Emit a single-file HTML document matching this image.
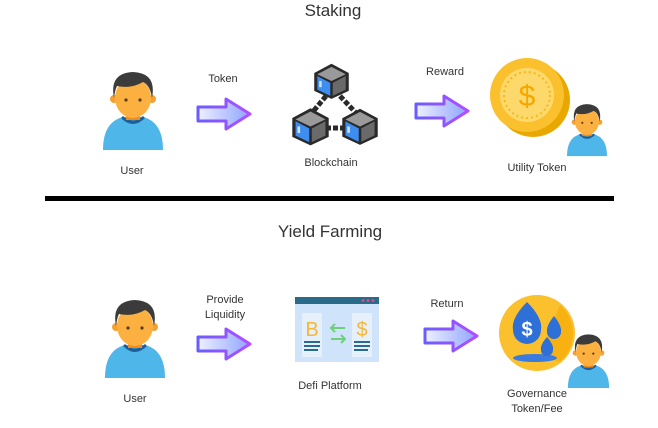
<!DOCTYPE html>
<html><head><meta charset="utf-8"><style>
html,body{margin:0;padding:0;background:#fff}
svg{display:block}
text{font-family:"Liberation Sans",sans-serif;fill:#333}
</style></head><body>
<svg width="658" height="428" viewBox="0 0 658 428" xmlns="http://www.w3.org/2000/svg">
<defs>
<linearGradient id="ag" x1="0" x2="1" y1="0" y2="0"><stop offset="0" stop-color="#eef0ff"/><stop offset="1" stop-color="#8fa4ff"/></linearGradient>
<linearGradient id="as" x1="0" x2="1" y1="0" y2="0"><stop offset="0" stop-color="#6b5cff"/><stop offset="1" stop-color="#b44dff"/></linearGradient>
<symbol id="person" viewBox="0 0 60 80">
<path d="M0 80 Q0 52 20 47 L40 47 Q60 52 60 80 Z" fill="#4fb6ea"/>
<path d="M18 48 Q30 60 42 48 L40 46 Q30 55 20 46 Z" fill="#1e5f9a"/>
<rect x="23" y="36" width="14" height="14" fill="#f08c1e"/>
<circle cx="11" cy="29" r="4" fill="#f5a030"/><circle cx="49" cy="29" r="4" fill="#f5a030"/>
<ellipse cx="30" cy="28" rx="18" ry="20" fill="#fbb040"/>
<path d="M11 28 Q6 3 30 2 Q54 3 49 28 Q47 15 40 12 Q28 19 14 16 Q12 20 11 28 Z" fill="#3b3b3b"/>
<circle cx="23" cy="30" r="1.6" fill="#5a3a1a"/><circle cx="37" cy="30" r="1.6" fill="#5a3a1a"/>
</symbol>
<symbol id="arrow" viewBox="0 0 58 36">
<path d="M3 11 L31 11 L31 3 L55 18 L31 33 L31 25 L3 25 Z" fill="url(#ag)" stroke="url(#as)" stroke-width="3" stroke-linejoin="round"/>
</symbol>
<symbol id="cube" viewBox="0 0 30 30">
<path d="M15 1 L29 8.5 L29 23 L15 29.5 L1 23 L1 8.5 Z" fill="#2a2a2a"/>
<path d="M15 3.5 L26.5 9.5 L15 15 L3.5 9.5 Z" fill="#9a9a9a"/>
<path d="M3.5 11 L14 16.5 L14 27 L3.5 22 Z" fill="#3d8ef0"/>
<path d="M16 16.5 L26.5 11 L26.5 22 L16 27 Z" fill="#6a6a6a"/>
<rect x="5" y="15" width="2" height="5" fill="#cfe3ff"/>
</symbol>
</defs>

<text x="333" y="16" font-size="17" text-anchor="middle">Staking</text>
<rect x="45" y="196" width="569" height="5" fill="#000"/>
<text x="330" y="237" font-size="17" text-anchor="middle">Yield Farming</text>

<!-- row 1 -->
<use href="#person" x="103" y="70" width="60" height="80"/>
<text x="132" y="174" font-size="11" text-anchor="middle">User</text>
<text x="223" y="82" font-size="11" text-anchor="middle">Token</text>
<use href="#arrow" x="195" y="96" width="58" height="36"/>

<g stroke="#2a2a2a" stroke-width="5" fill="none" stroke-dasharray="5 2">
<line x1="326" y1="96" x2="311" y2="114"/><line x1="340" y1="96" x2="357" y2="114"/><line x1="326" y1="128" x2="346" y2="128"/>
</g>
<use href="#cube" x="313" y="62" width="37" height="38"/>
<use href="#cube" x="291" y="107" width="39" height="39"/>
<use href="#cube" x="341" y="107" width="38" height="39"/>
<text x="331" y="166" font-size="11" text-anchor="middle">Blockchain</text>

<text x="445" y="75" font-size="11" text-anchor="middle">Reward</text>
<use href="#arrow" x="413" y="93" width="58" height="36"/>

<circle cx="533" cy="100" r="37" fill="#e9a800"/>
<circle cx="527" cy="95" r="37" fill="#fbc02d"/>
<circle cx="527" cy="95" r="27" fill="#fdd86a"/>
<circle cx="527" cy="95" r="23" fill="none" stroke="#f6b81c" stroke-width="2" stroke-dasharray="2 3"/>
<text x="527" y="106" font-size="30" text-anchor="middle" style="fill:#f5a800">$</text>
<use href="#person" x="567" y="102" width="40" height="55"/>
<text x="537" y="171" font-size="11" text-anchor="middle">Utility Token</text>

<!-- row 2 -->
<use href="#person" x="105" y="298" width="60" height="80"/>
<text x="135" y="402" font-size="11" text-anchor="middle">User</text>
<text x="225" y="303" font-size="11" text-anchor="middle">Provide</text>
<text x="225" y="318" font-size="11" text-anchor="middle">Liquidity</text>
<use href="#arrow" x="195" y="326" width="58" height="36"/>

<rect x="295" y="297" width="84" height="65" fill="#cfe4fb"/>
<rect x="295" y="297" width="84" height="7" fill="#2b6b8a"/>
<circle cx="363" cy="300.5" r="1.3" fill="#f48"/><circle cx="368" cy="300.5" r="1.3" fill="#f48"/><circle cx="373" cy="300.5" r="1.3" fill="#f48"/>
<rect x="302" y="313" width="20" height="44" fill="#e6f0fb"/>
<rect x="352" y="313" width="20" height="44" fill="#e6f0fb"/>
<text x="312" y="336" font-size="20" text-anchor="middle" style="fill:#f7b733">B</text>
<text x="362" y="336" font-size="20" text-anchor="middle" style="fill:#f7b733">$</text>
<g stroke="#2b6b8a" stroke-width="2"><line x1="304" y1="342" x2="320" y2="342"/><line x1="304" y1="346" x2="320" y2="346"/><line x1="304" y1="350" x2="318" y2="350"/><line x1="354" y1="342" x2="370" y2="342"/><line x1="354" y1="346" x2="370" y2="346"/><line x1="354" y1="350" x2="368" y2="350"/></g>
<g stroke="#6fcf7a" stroke-width="2" fill="none"><path d="M345 328 L331 328 M335 324 L331 328 L335 332"/><path d="M331 339 L345 339 M341 335 L345 339 L341 343"/></g>
<text x="330" y="389" font-size="11" text-anchor="middle">Defi Platform</text>

<text x="447" y="307" font-size="11" text-anchor="middle">Return</text>
<use href="#arrow" x="422" y="318" width="58" height="36"/>

<circle cx="537" cy="333" r="38" fill="#fbc02d"/>
<path d="M560 305 A38 38 0 0 1 560 362 L540 355 Z" fill="#f5a800" opacity="0.6"/>
<ellipse cx="535" cy="358" rx="22" ry="4" fill="#3a7be0"/>
<path d="M527 302 Q511 318 513 330 A14 14 0 0 0 541 330 Q543 318 527 302 Z" fill="#2e6fd8"/>
<text x="527" y="336" font-size="20" text-anchor="middle" font-weight="bold" style="fill:#fff">$</text>
<path d="M554 316 Q546 326 547 332 A7 7 0 0 0 561 332 Q562 326 554 316 Z" fill="#2e6fd8"/>
<path d="M547 337 Q540 345 541 350 A6 6 0 0 0 553 350 Q554 345 547 337 Z" fill="#2e6fd8"/>
<use href="#person" x="567" y="333" width="43" height="55"/>
<text x="537" y="397" font-size="11" text-anchor="middle">Governance</text>
<text x="537" y="412" font-size="11" text-anchor="middle">Token/Fee</text>
</svg>
</body></html>
